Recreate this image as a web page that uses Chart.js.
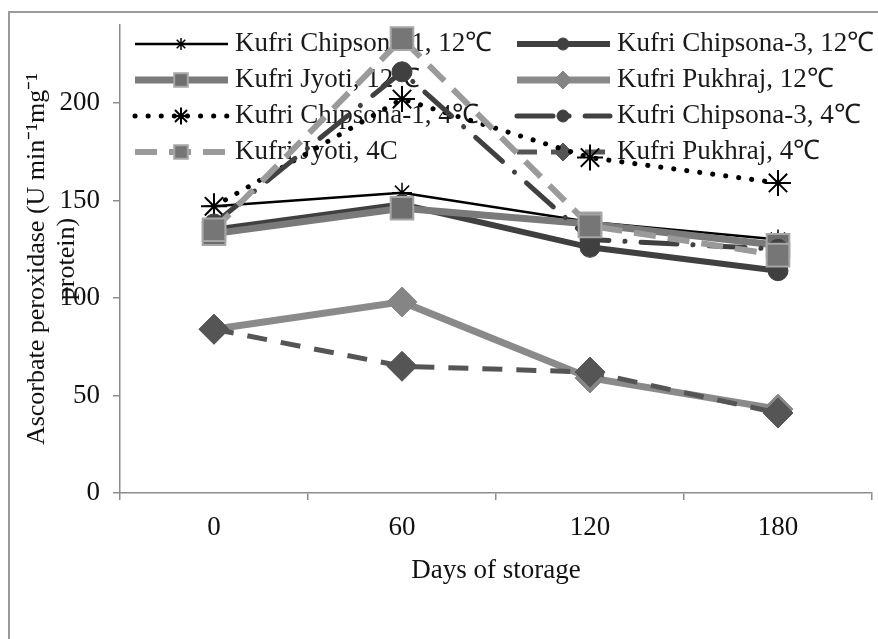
<!DOCTYPE html>
<html>
<head>
<meta charset="utf-8">
<script src="https://cdn.jsdelivr.net/npm/chart.js@4.4.1/dist/chart.umd.min.js"></script>
<style>
  html, body { margin: 0; padding: 0; background: #fff; }
  #wrap { position: relative; width: 878px; height: 639px; overflow: hidden; }
  #frame { position: absolute; left: 8px; top: 11px; width: 900px; height: 700px; border: 2px solid #9a9a9a; box-sizing: border-box; }
  #chart { position: absolute; left: 0; top: 0; }
</style>
</head>
<body>
<div id="wrap">
  <div id="frame"></div>
  <canvas id="chart" width="878" height="639"></canvas>
</div>
<script>
// storage days (categories)
const days = ['0', '60', '120', '180'];

const seriesNames = [
  'Kufri Chipsona-1, 12℃',
  'Kufri Chipsona-3, 12℃',
  'Kufri Jyoti, 12℃',
  'Kufri Pukhraj, 12℃',
  'Kufri Chipsona-1, 4℃',
  'Kufri Chipsona-3, 4℃',
  'Kufri Jyoti, 4C',
  'Kufri Pukhraj, 4℃'
];

// ascorbate peroxidase values
const chipsona1_12 = [147, 154, 139, 130];
const chipsona3_12 = [135, 148, 126, 114];
const jyoti_12     = [133, 146, 138, 127];
const pukhraj_12   = [84, 98, 59, 43];
const chipsona1_4  = [147, 202, 172, 159];
const chipsona3_4  = [138, 216, 130, 125];
const jyoti_4      = [135, 233, 137, 122];
const pukhraj_4    = [84, 65, 62, 41];

const yTicks = [0, 50, 100, 150, 200];

const serif = "'Liberation Serif', 'Times New Roman', serif";
const axisGrey = '#8c8c8c';

const styles = [
  { color: '#000000', width: 2.5, dash: [], cap: 'butt', point: 'star', r: 10, fill: '#000', edge: '#000', pw: 1.5 },
  { color: '#404040', width: 6, dash: [], cap: 'butt', point: 'circle', r: 10, fill: '#404040', edge: '#404040', pw: 1 },
  { color: '#7a7a7a', width: 7, dash: [], cap: 'butt', point: 'rect', r: 16, fill: '#6e6e6e', edge: '#a6a6a6', pw: 2 },
  { color: '#8a8a8a', width: 7, dash: [], cap: 'butt', point: 'rectRot', r: 15, fill: '#858585', edge: '#858585', pw: 1 },
  { color: '#000000', width: 5, dash: [0.1, 13], cap: 'round', point: 'star', r: 13, fill: '#000', edge: '#000', pw: 2 },
  { color: '#404040', width: 5, dash: [36, 16, 0.1, 16], cap: 'round', point: 'circle', r: 10, fill: '#404040', edge: '#404040', pw: 1 },
  { color: '#9a9a9a', width: 6, dash: [22, 12], cap: 'butt', point: 'rect', r: 16, fill: '#767676', edge: '#a6a6a6', pw: 2 },
  { color: '#555555', width: 5, dash: [20, 14], cap: 'butt', point: 'rectRot', r: 15, fill: '#555555', edge: '#555555', pw: 1 }
];

const values = [chipsona1_12, chipsona3_12, jyoti_12, pukhraj_12, chipsona1_4, chipsona3_4, jyoti_4, pukhraj_4];

const datasets = values.map((vals, i) => {
  const s = styles[i];
  return {
    label: seriesNames[i],
    data: vals,
    borderColor: s.color,
    borderWidth: s.width,
    borderDash: s.dash,
    borderCapStyle: s.cap,
    tension: 0,
    fill: false,
    pointStyle: s.point,
    pointRadius: s.r,
    pointHoverRadius: s.r,
    pointBackgroundColor: s.fill,
    pointBorderColor: s.edge,
    pointBorderWidth: s.pw,
    order: 7 - i
  };
});

// legend drawn inside the plot, under the lines, in two columns
const insideLegend = {
  id: 'insideLegend',
  beforeDatasetsDraw(chart) {
    const ctx = chart.ctx;
    const colX = [135, 517];
    chart.data.datasets.forEach((ds, i) => {
      const x0 = colX[i % 2];
      const y = 44 + Math.floor(i / 2) * 36;
      ctx.save();
      ctx.strokeStyle = ds.borderColor;
      ctx.lineWidth = ds.borderWidth;
      ctx.lineCap = ds.borderCapStyle;
      ctx.setLineDash(ds.borderDash);
      ctx.beginPath();
      ctx.moveTo(x0, y);
      ctx.lineTo(x0 + 93, y);
      ctx.stroke();
      ctx.setLineDash([]);
      ctx.fillStyle = ds.pointBackgroundColor;
      ctx.strokeStyle = ds.pointBorderColor;
      ctx.lineWidth = ds.pointBorderWidth;
      if (Chart.helpers && Chart.helpers.drawPoint) {
        Chart.helpers.drawPoint(ctx, {
          pointStyle: ds.pointStyle,
          radius: ds.pointRadius * 0.6,
          borderWidth: ds.pointBorderWidth,
          rotation: 0
        }, x0 + 46, y);
      }
      ctx.fillStyle = '#1a1a1a';
      ctx.font = '27px ' + serif;
      ctx.textBaseline = 'middle';
      ctx.textAlign = 'left';
      ctx.fillText(ds.label, x0 + 100, y);
      ctx.restore();
    });
  }
};

new Chart(document.getElementById('chart'), {
  type: 'line',
  data: { labels: days, datasets: datasets },
  options: {
    responsive: false,
    animation: false,
    devicePixelRatio: 1,
    layout: { autoPadding: false, padding: { top: 25, right: 6, left: 0, bottom: 0 } },
    plugins: {
      legend: { display: false },
      tooltip: { enabled: false }
    },
    scales: {
      x: {
        type: 'category',
        offset: true,
        grid: { display: true, drawOnChartArea: false, offset: true, tickLength: 7, color: axisGrey, lineWidth: 1.5 },
        border: { color: axisGrey, width: 1.5 },
        ticks: { font: { family: serif, size: 27 }, color: '#111', padding: 12 },
        title: {
          display: true,
          text: 'Days of storage',
          font: { family: serif, size: 27, lineHeight: 1.1 },
          color: '#111',
          padding: { top: 0, bottom: 53 }
        },
        afterFit(scale) {
          scale.height = 146;
          scale.paddingLeft = 0;
          scale.paddingRight = 0;
        }
      },
      y: {
        type: 'linear',
        min: 0,
        max: 240,
        afterBuildTicks(scale) { scale.ticks = yTicks.map(v => ({ value: v })); },
        grid: { display: true, drawOnChartArea: false, tickLength: 7, color: axisGrey, lineWidth: 1.5 },
        border: { color: axisGrey, width: 1.5 },
        ticks: { font: { family: serif, size: 27 }, color: '#111', padding: 13 },
        title: {
          display: true,
          text: ['Ascorbate peroxidase (U min⁻¹mg⁻¹', 'protein)'],
          font: { family: serif, size: 26, lineHeight: 1.15 },
          color: '#111',
          padding: { top: 22, bottom: 0 }
        },
        afterFit(scale) {
          scale.width = 120;
          scale.paddingTop = 0;
          scale.paddingBottom = 0;
        }
      }
    }
  },
  plugins: [insideLegend]
});
</script>
</body>
</html>
